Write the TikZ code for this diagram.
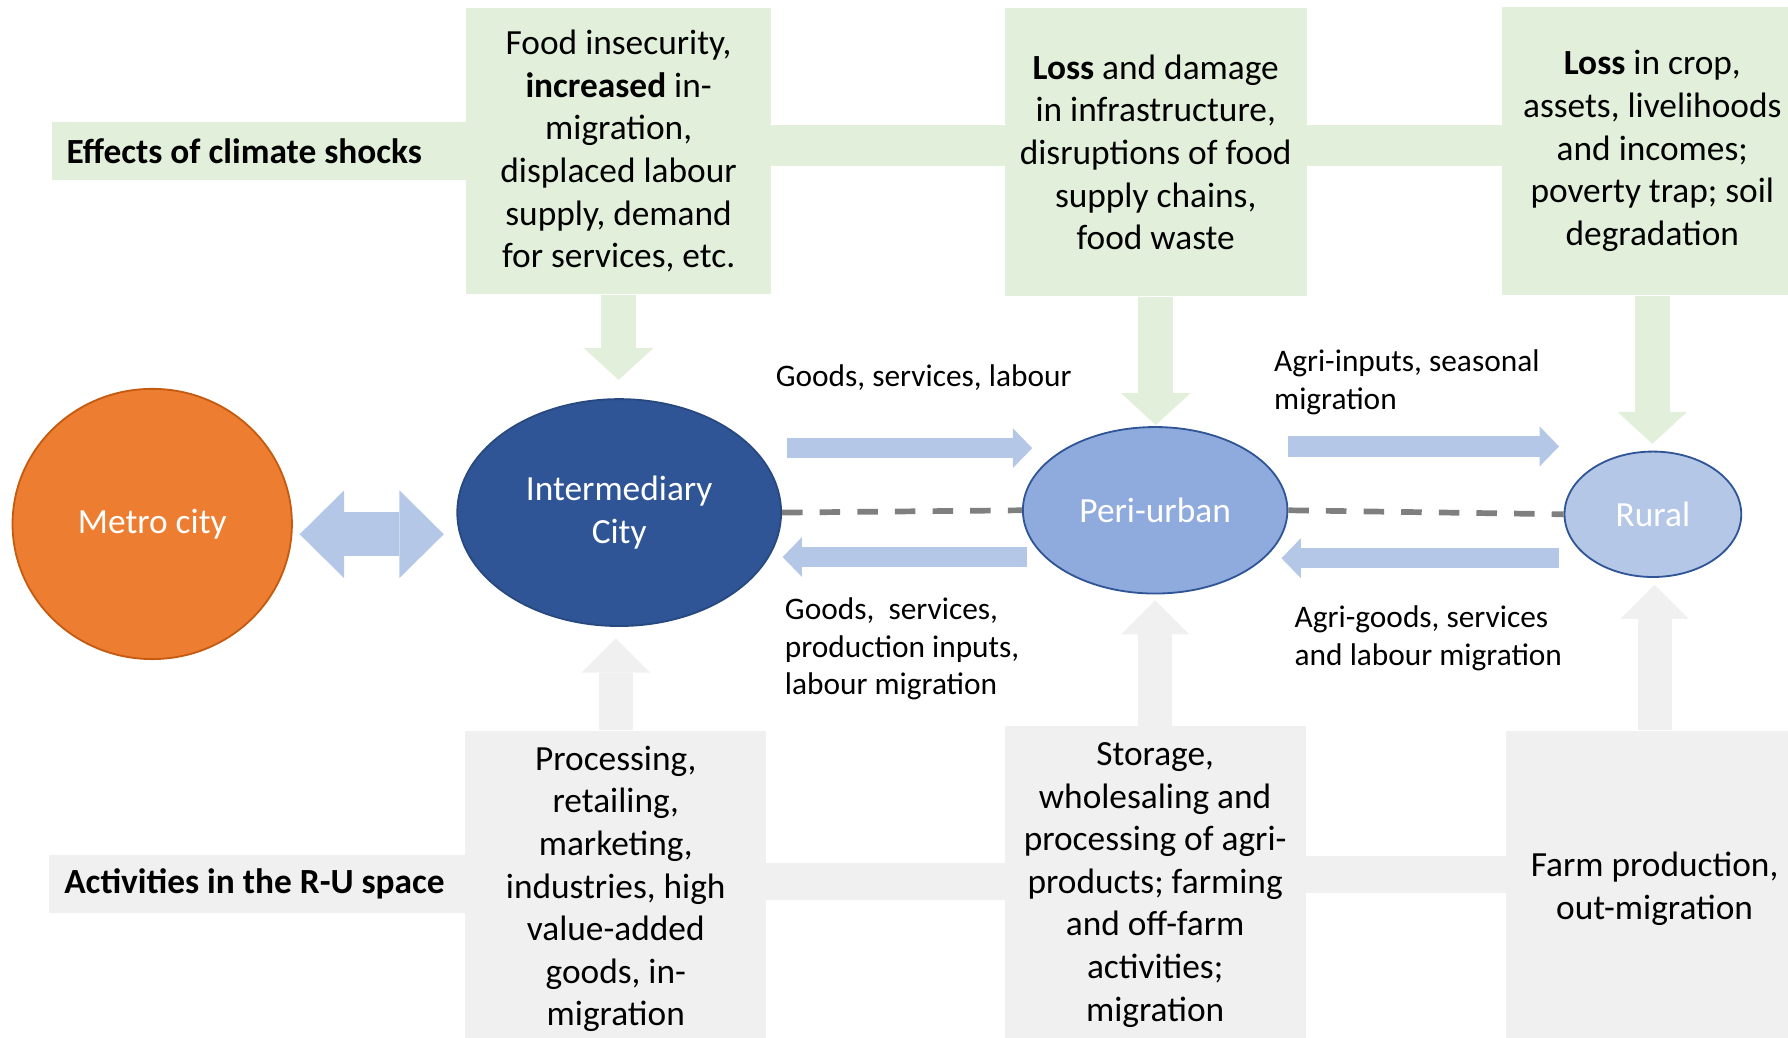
\documentclass[tikz,border=0pt]{standalone}
\usepackage{fontspec}
\setmainfont{Carlito}
\usepackage{tikz}
\usetikzlibrary{positioning, backgrounds, calc, shapes.geometric, arrows.meta}
\definecolor{gruen}{HTML}{E2EFDA}
\definecolor{grau}{HTML}{F0F0F0}
\definecolor{hellblau}{HTML}{B4C7E7}
\definecolor{mittelblau}{HTML}{8FAADC}
\definecolor{dunkelblau}{HTML}{2F5597}
\definecolor{metroorange}{HTML}{ED7D31}
\definecolor{metrorand}{HTML}{C55A11}
\definecolor{strichgrau}{HTML}{7F7F7F}
\tikzset{ort/.style={ellipse,draw,line width=0.8pt,inner sep=0,text=white,align=center,
		font=\fontsize{15.5}{18.7}\selectfont},
	kasten/.style={rectangle,inner sep=0,align=center,font=\fontsize{15.5}{18.7}\selectfont},
	band/.style={rectangle,inner xsep=6.5pt,inner ysep=0,minimum height=25.5pt,text width=195pt,
		align=flush left,font=\fontsize{15.5}{18.7}\selectfont\bfseries},
	etikett/.style={inner sep=0,align=left,font=\fontsize{13.75}{16.5}\selectfont},
	fluss/.style={draw=hellblau,line width=9pt,-{Triangle[length=8.5pt,width=17.5pt,line width=0pt]}},
	doppel/.style={draw=hellblau,line width=19.5pt,
		{Triangle[length=19.5pt,width=38.5pt,line width=0pt]}-{Triangle[length=19.5pt,width=38.5pt,line width=0pt]}},
	schock/.style={draw=gruen,line width=15.5pt,-{Triangle[length=14pt,width=30.5pt,line width=0pt]}},
	aktiv/.style={draw=grau,line width=15pt,-{Triangle[length=15pt,width=30pt,line width=0pt]}},
	strich/.style={draw=strichgrau,line width=2.5pt,dash pattern=on 9pt off 7.5pt} }

\begin{document}
\begin{tikzpicture}[x=0.5pt,y=-0.5pt]
  \useasboundingbox (0,0) rectangle (1568,910);

  % orte
  \node (metro) [ort, fill=metroorange, draw=metrorand, minimum width=122.5pt, minimum height=118.5pt]
  	at (133.5,459.5) {Metro city};
  \node (inter) [ort, fill=dunkelblau, draw=dunkelblau!85!black, minimum width=142pt, minimum height=99.5pt]
  	at (543,449.5) {Intermediary\\City};
  \node (peri) [ort, fill=mittelblau, draw=dunkelblau, minimum width=116pt, minimum height=73pt]
  	at (1013,447.5) {Peri-urban};
  \node (rural) [ort, fill=hellblau, draw=dunkelblau, minimum width=77.5pt, minimum height=55pt]
  	at (1449.5,451) {Rural};

  % effekte (band reicht unter den ersten kasten)
  \node (effekte) [band, fill=gruen, anchor=west] at (45,132.5) {Effects of climate shocks};
  \node (e1) [kasten, fill=gruen, minimum width=133.5pt, minimum height=125.5pt] at (542.5,132.5)
  	{Food insecurity,\\\textbf{increased} in-\\migration,\\displaced labour\\supply, demand\\for services, etc.};
  \node (e2) [kasten, fill=gruen, minimum width=132.5pt, minimum height=126.5pt] at (1013.5,133.5)
  	{\textbf{Loss} and damage\\in infrastructure,\\disruptions of food\\supply chains,\\food waste};
  \node (e3) [kasten, fill=gruen, minimum width=132pt, minimum height=126.5pt] at (1449,132.5)
  	{\textbf{Loss} in crop,\\assets, livelihoods\\and incomes;\\poverty trap; soil\\degradation};

  % aktivitaeten
  \node (aktivitaeten) [band, fill=grau, anchor=west] at (43,775) {Activities in the R-U space};
  \node (a1) [kasten, fill=grau, minimum width=132pt, minimum height=138.5pt] at (540,779.5)
  	{Processing,\\retailing,\\marketing,\\industries, high\\value-added\\goods, in-\\migration};
  \node (a2) [kasten, fill=grau, minimum width=132pt, minimum height=139pt] at (1013,776)
  	{Storage,\\wholesaling and\\processing of agri-\\products; farming\\and off-farm\\activities;\\migration};
  \node (a3) [kasten, fill=grau, minimum width=130pt, minimum height=138.5pt] at (1451,779.5)
  	{Farm production,\\out-migration};

  \begin{scope}[on background layer]
  	\fill[gruen] ($(e1.east)+(-1,-22.5)$) rectangle ($(e3.west)+(1,13.5)$);
  	\fill[grau] ($(a1.east)+(-1,-22.5)$) rectangle ($(a2.west)+(1,13)$);
  	\fill[grau] ($(a2.east)+(-1,-25)$) rectangle ($(a3.west)+(1,3.5)$);
  \end{scope}

  % pfeile
  \draw[schock] (e1.south) -- ($(e1.south |- inter.north)+(0,-16)$);
  \draw[schock] (e2.south) -- ($(e2.south |- peri.north)+(0,-1)$);
  \draw[schock] (e3.south) -- ($(e3.south |- rural.north)+(0,-6)$);
  \draw[aktiv] (a1.north) -- ($(a1.north |- inter.south)+(0,10)$);
  \draw[aktiv] (a2.north) -- ($(a2.north |- peri.south)+(0,5)$);
  \draw[aktiv] (a3.north) -- ($(a3.north |- rural.south)+(0,6)$);

  \draw[doppel] ($(metro.east)+(6,9)$) -- ($(inter.west)+(-11,19)$);
  \draw[fluss] ($(inter.east)+(4.5,-56.5)$) -- ($(peri.west)+(9,-54.5)$);
  \draw[fluss] ($(peri.west)+(4,41)$) -- ($(inter.east)+(0.5,39)$);
  \draw[fluss] ($(peri.east)+(0,-56)$) -- ($(rural.west)+(-4,-59.5)$);
  \draw[fluss] ($(rural.west)+(-4,38.5)$) -- ($(peri.east)+(-6,42)$);
  \draw[strich] (inter.east) -- (peri.west);
  \draw[strich] (peri.east) -- (rural.west);

  % etiketten
  \node (l1) [etikett, anchor=west] at (680,331) {Goods, services, labour};
  \node (l2) [etikett, anchor=west] at (688,569) {Goods,~ services,\\production inputs,\\labour migration};
  \node (l3) [etikett, anchor=west] at (1117,335) {Agri-inputs, seasonal\\migration};
  \node (l4) [etikett, anchor=west] at (1135,560) {Agri-goods, services\\and labour migration};
\end{tikzpicture}
\end{document}
